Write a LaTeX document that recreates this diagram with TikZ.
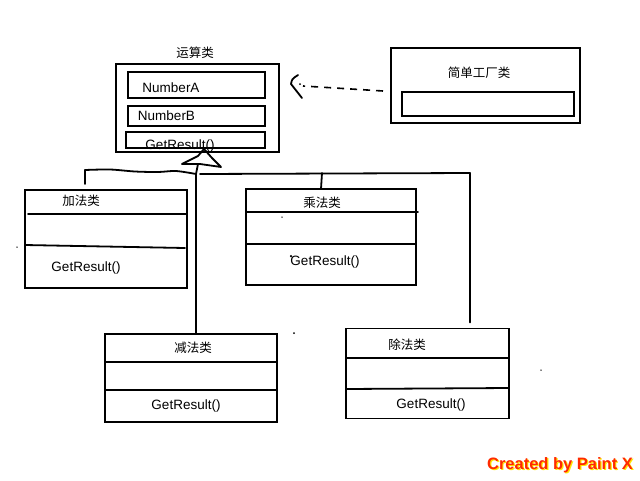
\documentclass[tikz,border=0pt]{standalone}
\usepackage{fontspec}
\setmainfont{Liberation Sans}
\newfontfamily\cjk{Noto Sans CJK SC}
\definecolor{pxred}{HTML}{FF2A00}
\definecolor{pxyel}{HTML}{FFE600}
\begin{document}
\begin{tikzpicture}[x=1pt,y=-1pt,
  box/.style={draw, line width=1.8pt, inner sep=0pt, outer sep=0pt},
  ln/.style={line width=1.8pt, line cap=round, line join=round},
  lbl/.style={inner sep=0pt, font=\fontsize{13.5}{16}\selectfont},
  cn/.style={inner sep=0pt, font=\cjk\fontsize{12.5}{15}\selectfont},
  speck/.style={fill, circle, inner sep=0pt, minimum size=2pt}]
\useasboundingbox (0,0) rectangle (640,480);
\fill[white] (0,0) rectangle (640,480);

% ---- 运算类 ----
\node[cn] (opT) at (195,53) {运算类};
\node[box, minimum width=163pt, minimum height=88pt] (op) at (197.5,108) {};
\node[box, minimum width=137pt, minimum height=26pt] (opA) at (196.5,85) {};
\node[box, minimum width=137pt, minimum height=20pt] (opB) at (196.5,116) {};
\node[box, minimum width=139pt, minimum height=16pt] (opC) at (195.5,140) {};
\node[lbl] (opAt) at (171,88) {NumberA};
\node[lbl] (opBt) at (166.5,116) {NumberB};
\node[lbl] (opCt) at (180,146) {GetResult()};

% ---- 简单工厂类 ----
\node[box, minimum width=189pt, minimum height=75pt] (fac) at (485.5,85.5) {};
\node[cn] (facT) at (479,73) {简单工厂类};
\node[box, minimum width=172pt, minimum height=24pt] (facI) at (488,104) {};

% ---- 加法类 ----
\node[box, minimum width=162pt, minimum height=98pt] (add) at (106,239) {};
\node[cn] (addT) at (81,201) {加法类};
\draw[ln] (28,214) -- (186,214);
\draw[ln] (25,245) -- (185,248);
\node[lbl] (addM) at (86,268) {GetResult()};

% ---- 乘法类 ----
\node[box, minimum width=170pt, minimum height=96pt] (mul) at (331,237) {};
\node[cn] (mulT) at (322,203) {乘法类};
\draw[ln] (246,212) -- (418,212);
\draw[ln] (246,244) -- (416,244);
\node[lbl] (mulM) at (325,262) {GetResult()};

% ---- 减法类 ----
\node[box, minimum width=172pt, minimum height=88pt] (sub) at (191,378) {};
\node[cn] (subT) at (193,348) {减法类};
\draw[ln] (105,362) -- (277,362);
\draw[ln] (105,390) -- (277,390);
\node[lbl] (subM) at (186,406) {GetResult()};

% ---- 除法类 ----
\node[box, minimum width=163pt, minimum height=90pt] (div) at (427.5,373.5) {};
\node[cn] (divT) at (407,345) {除法类};
\draw[ln] (346,358) -- (509,358);
\draw[ln] (346,389) -- (509,388);
\node[lbl] (divM) at (431,405) {GetResult()};

% ---- inheritance connectors ----
\coordinate (jL) at (85,170);
\coordinate (jM) at (196,174);
\coordinate (jR) at (470,173);
\coordinate (tb) at (198,164);
\draw[ln] ([xshift=-21pt,yshift=6pt]add.north) -- (jL);
\draw[ln] plot[smooth, tension=0.5] coordinates {(jL) (110,169.5) (135,171.5) (158,172) (176,171) (jM)};
\draw[ln] (jM) -- (jM |- sub.north);
\draw[ln] (tb) -- (jM);
\draw[ln] ([xshift=4pt]jM) -- (jR) -- ([yshift=6pt]jR |- div.north);
\draw[ln] (322,173) -- ([xshift=-10pt]mul.north);
% hollow triangle head
\draw[ln] (182,164) -- (198,156) -- (204,149) -- (212,158) -- (221,167) -- (200,164) -- cycle;

% ---- dependency (dashed) ----
\coordinate (dS) at (383,91);
\coordinate (dE) at (303,86);
\draw[line width=1.6pt, dash pattern=on 7pt off 6pt] (dS) -- (dE);
\draw[ln] (298,75) .. controls (292,79) .. (291,84) -- (302,98);
\node[speck] (dd) at (300,84) {};

% ---- stray specks ----
\node[speck, minimum size=1.5pt] at (17,247) {};
\node[speck, minimum size=1.5pt] at (282,217) {};
\node[speck, minimum size=2.5pt] at (291,256) {};
\node[speck] at (294,333) {};
\node[speck, minimum size=1.5pt] at (541,370) {};

% ---- signature ----
\node[inner sep=0pt, text=pxyel, font=\bfseries\fontsize{16.5}{19}\selectfont] (sigS) at (561.2,466.2) {Created by Paint X};
\node[inner sep=0pt, text=pxred, font=\bfseries\fontsize{16.5}{19}\selectfont] (sig) at (560,465) {Created by Paint X};
\end{tikzpicture}
\end{document}
